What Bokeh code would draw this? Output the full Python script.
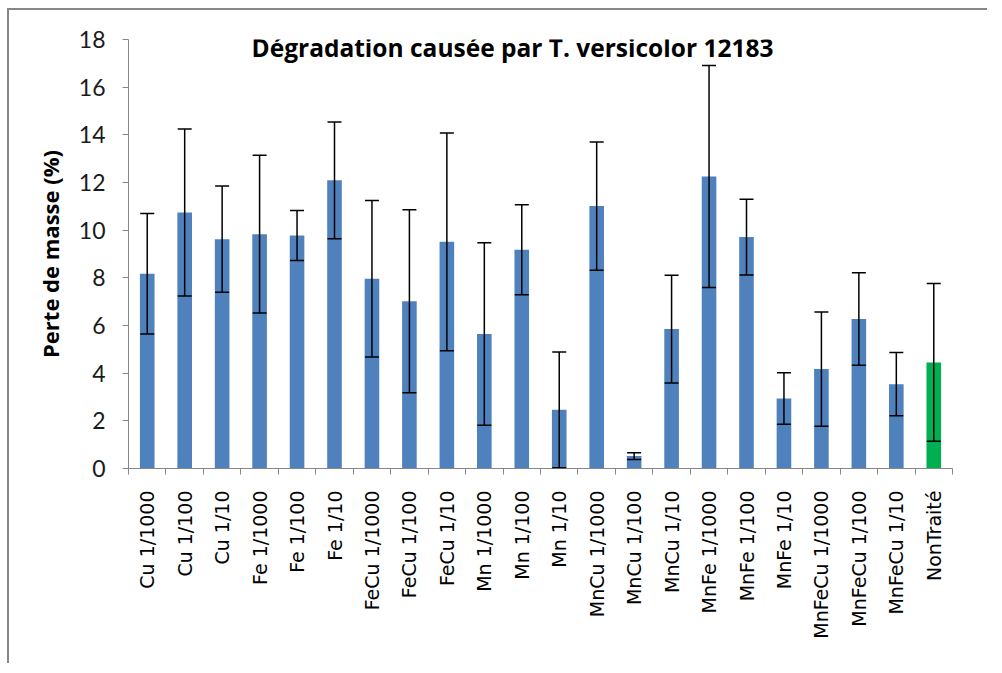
from bokeh.plotting import figure
from bokeh.models import (ColumnDataSource, Range1d, FixedTicker, Whisker, TeeHead, Label)
from bokeh.embed import file_html
from bokeh.resources import INLINE

categories = ["Cu 1/1000", "Cu 1/100", "Cu 1/10", "Fe 1/1000", "Fe 1/100", "Fe 1/10",
              "FeCu 1/1000", "FeCu 1/100", "FeCu 1/10", "Mn 1/1000", "Mn 1/100", "Mn 1/10",
              "MnCu 1/1000", "MnCu 1/100", "MnCu 1/10", "MnFe 1/1000", "MnFe 1/100", "MnFe 1/10",
              "MnFeCu 1/1000", "MnFeCu 1/100", "MnFeCu 1/10", "NonTraité"]
values = [8.17, 10.74, 9.62, 9.83, 9.78, 12.09, 7.96, 7.02, 9.51, 5.64, 9.18, 2.46,
          11.01, 0.52, 5.85, 12.25, 9.71, 2.94, 4.17, 6.27, 3.54, 4.45]
errors = [2.53, 3.50, 2.23, 3.31, 1.05, 2.45, 3.28, 3.84, 4.57, 3.83, 1.89, 2.43,
          2.69, 0.14, 2.26, 4.66, 1.59, 1.08, 2.40, 1.94, 1.33, 3.31]
y_ticks = [0, 2, 4, 6, 8, 10, 12, 14, 16, 18]

BLUE = "#4F81BD"
GREEN = "#00B050"
AXIS = "#868686"

n = len(categories)
xs = list(range(n))
colors = [GREEN if c == "NonTraité" else BLUE for c in categories]
upper = [v + e for v, e in zip(values, errors)]
lower = [max(0.0, v - e) for v, e in zip(values, errors)]

src = ColumnDataSource(dict(x=xs, top=values, color=colors, upper=upper, lower=lower))

p = figure(width=980, height=655, output_backend="svg", toolbar_location=None,
           x_range=Range1d(-0.5, n - 0.5), y_range=Range1d(0, 18),
           min_border_left=119, min_border_right=37, min_border_top=29, min_border_bottom=197)
p.styles = {"border-left": "2px solid #868686", "border-top": "2px solid #868686",
            "margin-left": "7px", "margin-top": "8px"}
p.outline_line_color = None
p.grid.grid_line_color = None
p.background_fill_color = "white"
p.border_fill_color = "white"

p.vbar(x="x", top="top", width=0.39, fill_color="color", line_color=None, source=src)

head_u = TeeHead(size=14, line_color="black", line_width=1.5)
head_l = TeeHead(size=14, line_color="black", line_width=1.5)
w = Whisker(source=src, base="x", upper="upper", lower="lower", line_color="black",
            line_width=1.5, upper_head=head_u, lower_head=head_l, level="overlay")
p.add_layout(w)

# x axis
xa = p.xaxis[0]
xa.ticker = FixedTicker(ticks=xs, minor_ticks=[i - 0.5 for i in range(n + 1)])
xa.major_label_overrides = {i: c for i, c in enumerate(categories)}
xa.major_label_orientation = 1.5707963267948966
xa.major_tick_out = 0
xa.major_tick_in = 0
xa.minor_tick_out = 6
xa.minor_tick_in = 0
xa.minor_tick_line_color = AXIS
xa.axis_line_color = AXIS
xa.major_label_standoff = 16
xa.major_label_text_font = "'DejaVu Sans'"
xa.major_label_text_font_size = "19px"
xa.major_label_text_color = "black"

# y axis
ya = p.yaxis[0]
ya.ticker = FixedTicker(ticks=y_ticks)
ya.minor_tick_line_color = None
ya.major_tick_out = 6
ya.major_tick_in = 0
ya.major_tick_line_color = AXIS
ya.axis_line_color = AXIS
ya.major_label_standoff = 17
ya.major_label_text_font = "Lato"
ya.major_label_text_font_size = "23px"
ya.major_label_text_color = "#1a1a1a"
ya.axis_label = "Perte de masse (%)"
ya.axis_label_text_font = "'Open Sans'"
ya.axis_label_text_font_style = "bold"
ya.axis_label_text_font_size = "22px"
ya.axis_label_text_color = "black"
ya.axis_label_standoff = 11

title = Label(x=384, y=421, x_units="screen", y_units="screen",
              text="Dégradation causée par T. versicolor 12183",
              text_font="'Open Sans'", text_font_style="bold", text_font_size="24.5px",
              text_align="center", text_baseline="middle", text_color="black")
p.add_layout(title)

open("out.html", "w").write(file_html(p, INLINE))
